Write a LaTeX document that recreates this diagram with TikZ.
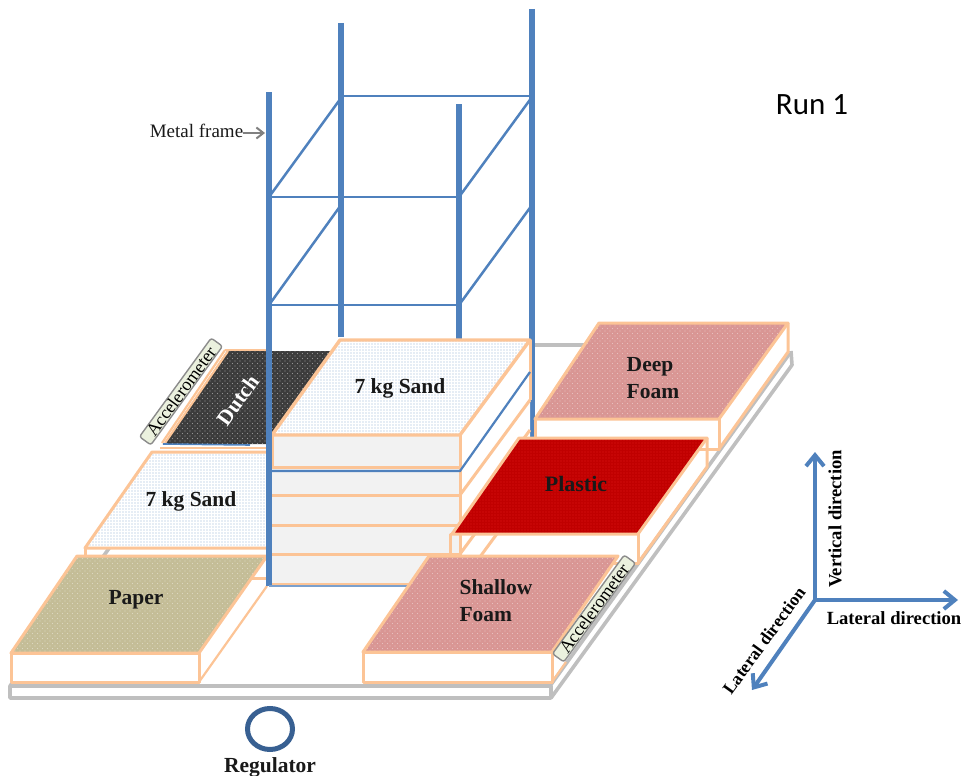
\documentclass[tikz,border=0pt]{standalone}
\usepackage{fontspec}
\setmainfont{Liberation Serif}
\newfontfamily\runfont{Carlito}
\usetikzlibrary{patterns,arrows.meta}
\definecolor{edgeor}{RGB}{252,196,150}
\definecolor{steel}{RGB}{79,129,189}
\definecolor{platgray}{RGB}{191,191,191}
\definecolor{ringblue}{RGB}{56,96,146}
\definecolor{foamc}{RGB}{217,150,148}
\definecolor{paperc}{RGB}{196,189,151}
\definecolor{plasticc}{RGB}{192,0,0}
\definecolor{dutchc}{RGB}{60,60,60}
\definecolor{accelc}{RGB}{235,241,222}
\definecolor{layerc}{RGB}{242,242,242}
\pgfdeclarepatternformonly{dotgrid}{\pgfqpoint{-1pt}{-1pt}}{\pgfqpoint{3pt}{3pt}}{\pgfqpoint{3pt}{3pt}}{
  \pgfpathcircle{\pgfqpoint{0pt}{0pt}}{0.62pt}\pgfusepath{fill}}
\pgfdeclarepatternformonly{dotsparse}{\pgfqpoint{-1pt}{-1pt}}{\pgfqpoint{5pt}{5pt}}{\pgfqpoint{5pt}{5pt}}{
  \pgfpathcircle{\pgfqpoint{0pt}{0pt}}{0.6pt}\pgfpathcircle{\pgfqpoint{2.5pt}{2.5pt}}{0.6pt}\pgfusepath{fill}}
\tikzset{
  edgeline/.style={draw=edgeor,line width=3pt,line join=round},
  thinedge/.style={draw=edgeor,line width=2.2pt},
  post/.style={draw=steel,line width=5.2pt},
  brace/.style={draw=steel,line width=2.5pt},
  plat/.style={draw=platgray,line width=3.6pt,line join=round},
  axis/.style={draw=steel,line width=4pt,-{Straight Barb[length=11pt,width=18pt,line width=4pt]}},
  lab/.style={font=\bfseries\fontsize{21.5}{26}\selectfont,text=black!90},
  dirlab/.style={font=\bfseries\fontsize{18.6}{21}\selectfont,text=black},
  accel/.style={draw=gray!90,fill=accelc,line width=1.4pt,rounded corners=2.5pt,rotate=54,minimum width=122pt,minimum height=14pt,inner sep=0pt,font=\fontsize{18}{18}\selectfont},
  dotted surface/.style={pattern=dotgrid,pattern color=#1},
  sparse surface/.style={pattern=dotsparse,pattern color=#1}
}
\begin{document}
\begin{tikzpicture}[x=1pt,y=-1pt]
\useasboundingbox (0,0) rectangle (964,776);
% platform
\draw[plat] (10,686) rectangle (551,698);
\draw[plat] (10,686) -- (110,547);
\draw[plat] (533,345) -- (600,345);
\draw[plat] (551,698) -- (792,365) -- (791,351);
\draw[plat] (550,686) -- (790,353);
% back posts and frame
\draw[post] (341,23) -- (341,337);
\draw[post] (532,9) -- (532,437);
\draw[post] (459,104) -- (459,339);
\draw[brace] (341,96) -- (532,96);
\draw[brace] (269,197) -- (341,98);
\draw[brace] (459,197) -- (532,97);
\draw[brace] (269,197) -- (459,197);
\draw[brace] (269,305) -- (341,205);
\draw[brace] (459,305) -- (532,205);
\draw[brace] (269,305) -- (459,305);
% deep foam
\fill[white] (535,419) rectangle (719,449);
\draw[edgeline] (535,419) -- (535,449) -- (719,449) -- (719,419);
\draw[edgeline] (788,323) -- (788,352) -- (719,449);
\fill[foamc] (599,323) -- (788,323) -- (719,419) -- (535,419) -- cycle;
\fill[sparse surface=white!40!foamc] (599,323) -- (788,323) -- (719,419) -- (535,419) -- cycle;
\draw[edgeline] (599,323) -- (788,323) -- (719,419) -- (535,419) -- cycle;
% dutch
\fill[dutchc] (227,351) -- (335,351) -- (272,440) -- (272,444) -- (165,444) -- cycle;
\fill[sparse surface=white!45!dutchc] (227,351) -- (335,351) -- (272,440) -- (272,444) -- (165,444) -- cycle;
\draw[thinedge] (225,350) -- (270,350);
\draw[thinedge] (225,350) -- (162,443);
\draw[thinedge] (228,351) -- (165,443);
\draw[thinedge] (160,448) -- (270,448);
\draw[draw=steel,line width=1.6pt] (163,444) -- (250,445);
% left sand
\draw[edgeline] (85,549) -- (85,578) -- (270,578);
\fill[white] (152,452) -- (270,452) -- (270,548) -- (85,548) -- cycle;
\fill[dotted surface=steel!60] (152,452) -- (270,452) -- (270,548) -- (85,548) -- cycle;
\draw[edgeline] (270,452) -- (152,452) -- (85,548) -- (270,548);
% stack
\fill[layerc] (272,435) rectangle (460,584);
\fill[white] (460,435) -- (530,340) -- (530,489) -- (460,584) -- cycle;
\foreach \yy in {495,525,554,584}{\draw[edgeline] (272,\yy) -- (460,\yy);}
\draw[edgeline] (272,435) -- (272,467) -- (460,467);
\draw[edgeline] (460,435) -- (460,584);
\draw[edgeline] (530,340) -- (530,400);
\draw[edgeline] (460,495) -- (530,400);
\draw[edgeline] (460,525) -- (530,430);
\draw[edgeline] (460,554) -- (530,459);
\draw[edgeline] (460,584) -- (530,489);
\draw[draw=steel,line width=2.2pt] (272,471) -- (460,471) -- (530,372);
\fill[white] (340,340) -- (530,340) -- (460,435) -- (272,435) -- cycle;
\fill[dotted surface=steel!60] (340,340) -- (530,340) -- (460,435) -- (272,435) -- cycle;
\draw[edgeline,line width=3.4pt] (340,340) -- (530,340) -- (460,435) -- (272,435) -- cycle;
% plastic
\draw[edgeline] (452,534) -- (450,534) -- (450,563) -- (638,563) -- (638,534);
\draw[edgeline] (707,438) -- (707,467) -- (638,563);
\fill[plasticc] (519,438) -- (707,438) -- (638,534) -- (452,534) -- cycle;
\fill[dotted surface=red!45!plasticc!90!white] (519,438) -- (707,438) -- (638,534) -- (452,534) -- cycle;
\draw[edgeline] (519,438) -- (707,438) -- (638,534) -- (452,534) -- cycle;
% paper
\draw[edgeline,fill=white] (11,653) rectangle (199,682);
\draw[thinedge] (199,682) -- (267,586);
\fill[paperc] (77,556) -- (267,556) -- (199,653) -- (11,653) -- cycle;
\fill[sparse surface=white!40!paperc] (77,556) -- (267,556) -- (199,653) -- (11,653) -- cycle;
\draw[edgeline] (77,556) -- (267,556) -- (199,653) -- (11,653) -- cycle;
% front post and base
\draw[post] (269,92) -- (269,586);
\draw[draw=steel!75,line width=2pt] (269,585.5) -- (410,585.5);
% shallow foam
\draw[edgeline,fill=white] (363,652) rectangle (552,682);
\draw[thinedge] (552,682) -- (566,662);
\fill[foamc] (429,556) -- (618,556) -- (552,652) -- (363,652) -- cycle;
\fill[sparse surface=white!40!foamc] (429,556) -- (618,556) -- (552,652) -- (363,652) -- cycle;
\draw[edgeline] (429,556) -- (618,556) -- (552,652) -- (363,652) -- cycle;
% accelerometers
\node[accel] (accleft) at (181,391.5) {Accelerometer};
\node[accel] (accright) at (594,608.5) {Accelerometer};
% labels
\node[lab] (sandtop) at (400,388) {7 kg Sand};
\node[lab] (sandleft) at (191,501) {7 kg Sand};
\node[lab,text=white,rotate=54] (dutch) at (238,400) {Dutch};
\node[lab] (paper) at (136,600) {Paper};
\node[lab,font=\bfseries\fontsize{22}{26}\selectfont] (plastic) at (576,484) {Plastic};
\node[lab,align=left,font=\bfseries\fontsize{21.5}{26.5}\selectfont] (deep) at (653,378) {Deep\\Foam};
\node[lab,align=left,font=\bfseries\fontsize{21.5}{26.5}\selectfont] (shallow) at (496,600.5) {Shallow\\Foam};
% regulator
\draw[draw=ringblue,line width=5pt] (270,729) ellipse [x radius=22.5,y radius=20.5];
\node[lab,font=\bfseries\fontsize{21.5}{24}\selectfont] (regulator) at (270,767) {Regulator};
% metal frame
\node[font=\fontsize{19}{22}\selectfont,text=black!90,inner sep=0pt] (metal) at (196.5,131) {Metal frame};
\coordinate (metaltip) at (265,133);
\draw[draw=gray,line width=2pt,-{Straight Barb[length=7pt,width=11pt,line width=2pt]}] (metal.east |- metaltip) -- (metaltip);
% run label
\node[font=\runfont\fontsize{31}{34}\selectfont,inner sep=0pt] (run) at (812,105) {Run 1};
% axes
\coordinate (origin) at (815,600);
\coordinate (vert) at (815,452);
\coordinate (latr) at (958,600);
\coordinate (latl) at (752,690);
\draw[axis] (origin) -- (vert);
\draw[axis] (origin) -- (latr);
\draw[axis] (origin) -- (latl);
\node[dirlab,rotate=90] (vlab) at (835,519) {Vertical direction};
\node[dirlab] (hlab) at (894,618) {Lateral direction};
\node[dirlab,rotate=54,font=\bfseries\fontsize{17.6}{21}\selectfont] (dlab) at (764,640.5) {Lateral direction};
\end{tikzpicture}
\end{document}
